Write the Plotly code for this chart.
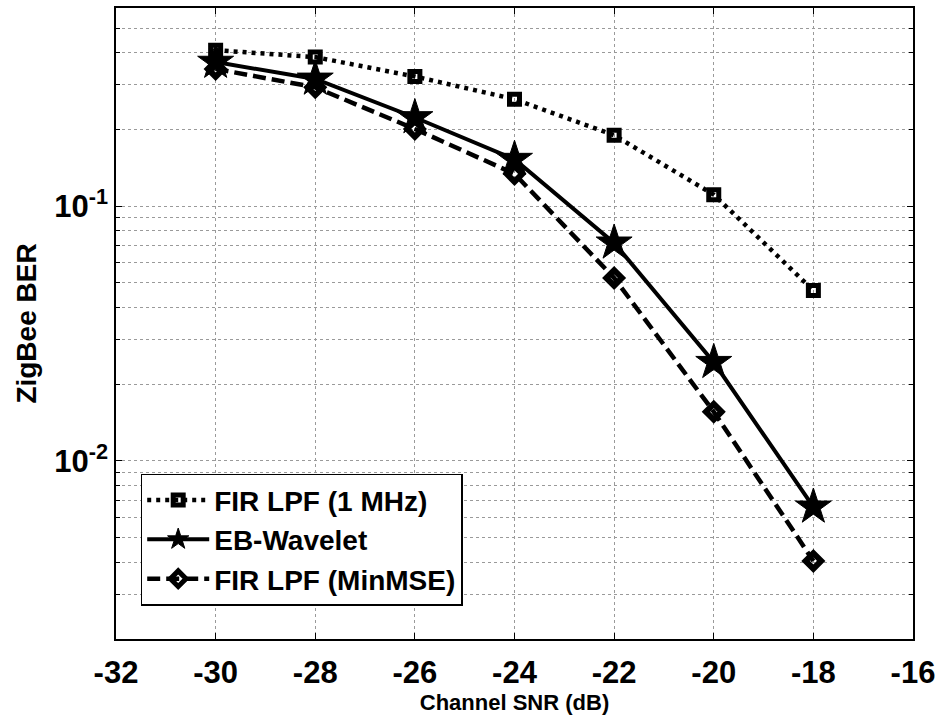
import plotly.graph_objects as go

# Channel SNR sweep (dB) and measured ZigBee bit error rate per receiver filter
snr_db = [-30, -28, -26, -24, -22, -20, -18]
ber_fir_1mhz = [0.41, 0.385, 0.323, 0.263, 0.19, 0.111, 0.0467]
ber_eb_wavelet = [0.368, 0.316, 0.223, 0.153, 0.0718, 0.0244, 0.0066]
ber_fir_minmse = [0.346, 0.293, 0.201, 0.134, 0.0523, 0.0156, 0.00405]

series_names = ["FIR LPF (1 MHz)", "EB-Wavelet", "FIR LPF (MinMSE)"]

x_ticks = [-32, -30, -28, -26, -24, -22, -20, -18, -16]
y_major = [0.01, 0.1]
y_major_labels = ["10<sup>-2</sup>", "10<sup>-1</sup>"]

# minor log grid: 2..9 within each decade
y_minor = [m * d for d in (0.001, 0.01, 0.1) for m in range(2, 10)]
y_minor = [v for v in y_minor if 0.002 <= v <= 0.6]

FONT = "Liberation Sans"

fig = go.Figure()

fig.add_trace(go.Scatter(
    x=snr_db, y=ber_fir_1mhz, name=series_names[0], mode="lines+markers",
    line=dict(color="black", width=4.5, dash="4px,5px"),
    marker=dict(symbol="square-open", size=10, color="black",
                line=dict(color="black", width=5)),
))
fig.add_trace(go.Scatter(
    x=snr_db, y=ber_eb_wavelet, name=series_names[1], mode="lines+markers",
    line=dict(color="black", width=4),
    marker=dict(symbol="star", size=27, color="black",
                line=dict(color="black", width=1)),
))
fig.add_trace(go.Scatter(
    x=snr_db, y=ber_fir_minmse, name=series_names[2], mode="lines+markers",
    line=dict(color="black", width=4.5, dash="13px,6px"),
    marker=dict(symbol="diamond-open", size=12, color="black",
                line=dict(color="black", width=6)),
))

grid_style = dict(showgrid=True, gridcolor="#9a9a9a", gridwidth=1, griddash="dot")
axis_common = dict(
    showline=True, linecolor="black", linewidth=1.5, mirror="allticks",
    ticks="inside", tickcolor="black", ticklen=6, tickwidth=1,
    zeroline=False,
    tickfont=dict(family=FONT, size=31, color="black", weight="bold"),
    **grid_style,
)

fig.update_xaxes(
    range=[-32, -16], tickvals=x_ticks, ticktext=[str(v) for v in x_ticks],
    ticklabelstandoff=5,
    title=dict(text="Channel SNR (dB)", standoff=8,
               font=dict(family=FONT, size=22, color="black", weight="bold")),
    **axis_common,
)
fig.update_yaxes(
    type="log", range=[-2.699, -0.2218], tickvals=y_major, ticktext=y_major_labels,
    minor=dict(tickvals=y_minor, ticks="inside", ticklen=4, tickcolor="black",
               **grid_style),
    title=dict(text="ZigBee BER", standoff=9,
               font=dict(family=FONT, size=28, color="black", weight="bold")),
    **axis_common,
)

fig.update_layout(
    width=936, height=715,
    margin=dict(l=116, r=23, t=8, b=76, autoexpand=False),
    paper_bgcolor="white", plot_bgcolor="white",
    legend=dict(
        x=0.031, y=0.262, xanchor="left", yanchor="top",
        bgcolor="white", bordercolor="black", borderwidth=1.5,
        font=dict(family=FONT, size=28, color="black", weight="bold"),
        itemwidth=62,
    ),
    showlegend=True,
)

fig.write_html("out.html")
